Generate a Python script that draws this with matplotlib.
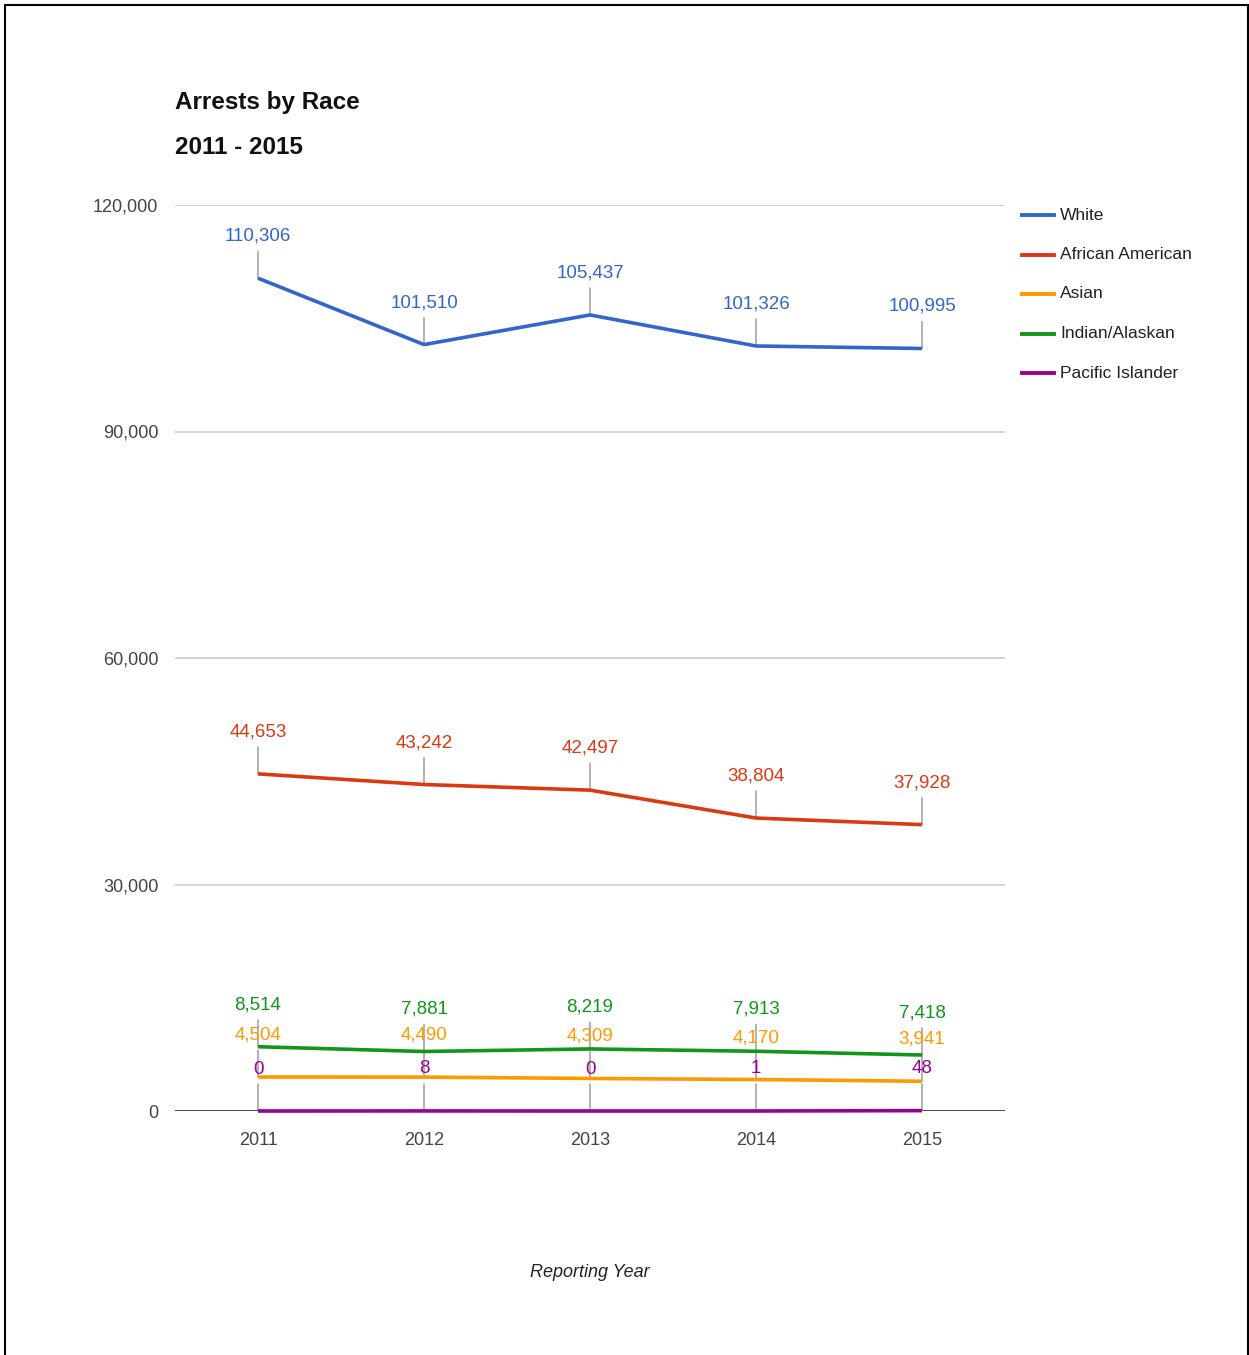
import matplotlib
matplotlib.use("Agg")
import matplotlib.pyplot as plt
from matplotlib.lines import Line2D
from matplotlib.patches import Rectangle

years = [2011, 2012, 2013, 2014, 2015]
series_names = ["White", "African American", "Asian", "Indian/Alaskan", "Pacific Islander"]
white = [110306, 101510, 105437, 101326, 100995]
african_american = [44653, 43242, 42497, 38804, 37928]
asian = [4504, 4490, 4309, 4170, 3941]
indian_alaskan = [8514, 7881, 8219, 7913, 7418]
pacific_islander = [0, 8, 0, 1, 48]
colors = ["#3366cc", "#dc3912", "#ff9900", "#109618", "#990099"]
yticks = [0, 30000, 60000, 90000, 120000]

series = [white, african_american, asian, indian_alaskan, pacific_islander]

plt.rcParams["font.family"] = ["Liberation Sans", "DejaVu Sans"]

W, H = 1249, 1355
fig = plt.figure(figsize=(W / 100, H / 100), dpi=100)
fig.patch.set_facecolor("white")

# frame around the picture
fig.patches.append(Rectangle((5 / W, -0.01), 1243 / W, 1.01 - 5 / H, transform=fig.transFigure,
                             fill=False, edgecolor="black", linewidth=1.5))

ax = fig.add_axes([175 / W, (H - 1111) / H, 830 / W, 906 / H])
ax.set_xlim(2010.5, 2015.5)
ax.set_ylim(0, 120000)
for s in ax.spines.values():
    s.set_visible(False)
ax.set_yticks(yticks)
ax.set_yticklabels([f"{v:,}" for v in yticks])
ax.set_xticks(years)
ax.set_xticklabels([str(y) for y in years])
ax.tick_params(length=0, labelsize=13, colors="#444444")
ax.tick_params(axis="y", pad=12)
ax.tick_params(axis="x", pad=15)
for v in yticks[1:]:
    ax.axhline(v, color="#cccccc", linewidth=1.2, zorder=0)
ax.axhline(0, color="#333333", linewidth=2, zorder=1)

# stems + labels
for vals, c in zip(series, colors):
    for x, v in zip(years, vals):
        ax.annotate("", xy=(x, v), xytext=(0, 27), textcoords="offset pixels",
                    arrowprops=dict(arrowstyle="-", color="#888888", lw=0.9,
                                    shrinkA=0, shrinkB=0), zorder=2)
for vals, c in zip(series, colors):
    ax.plot(years, vals, color=c, linewidth=2.6, zorder=3, solid_capstyle="butt", clip_on=False)
    for x, v in zip(years, vals):
        ax.annotate(f"{v:,}", xy=(x, v), xytext=(0, 42), textcoords="offset pixels",
                    ha="center", va="center", color=c, fontsize=13.5, zorder=4)

ax.set_xlabel("Reporting Year", fontsize=13, style="italic", color="#222222", labelpad=83)

# title
fig.text(175 / W, 1 - 102 / H, "Arrests by Race", fontsize=17.5, fontweight="bold",
         ha="left", va="center", color="#111111")
fig.text(175 / W, 1 - 147 / H, "2011 - 2015", fontsize=17.5, fontweight="bold",
         ha="left", va="center", color="#111111")

# legend
ly0 = 215
for i, (name, c) in enumerate(zip(series_names, colors)):
    y = 1 - (ly0 + i * 39.5) / H
    fig.add_artist(Line2D([1022 / W, 1054 / W], [y, y], color=c, linewidth=2.8,
                          transform=fig.transFigure))
    fig.text(1060 / W, y, name, fontsize=12.5, color="#222222", ha="left", va="center")

fig.savefig("out.png", dpi=100, facecolor="white")
